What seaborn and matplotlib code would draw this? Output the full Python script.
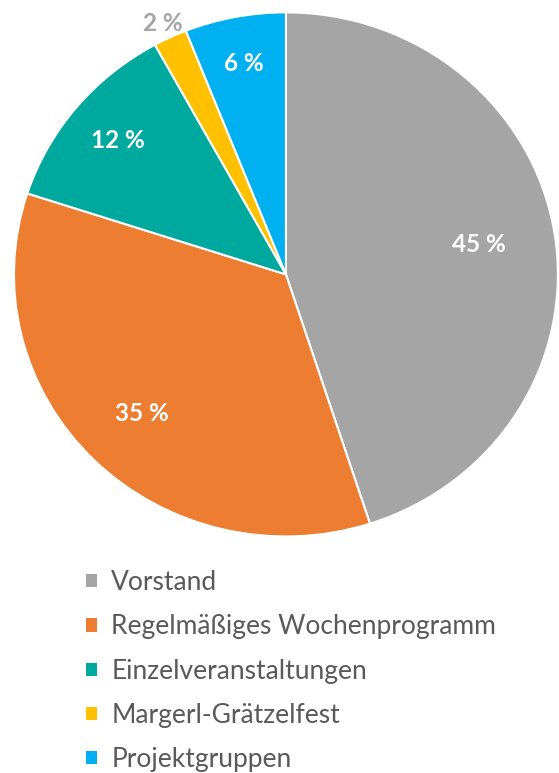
import numpy as np
import seaborn as sns
import matplotlib.pyplot as plt
from matplotlib.patches import Patch

# Data
categories = ['Vorstand', 'Regelmäßiges Wochenprogramm', 'Einzelveranstaltungen',
              'Margerl-Grätzelfest', 'Projektgruppen']
shares = [45, 35, 12, 2, 6]
colors = ['#A5A5A5', '#ED7D31', '#00A99D', '#FFC000', '#00B0F0']
label_colors = ['white', 'white', 'white', '#A5A5A5', 'white']
label_radius = [0.72, 0.75, 0.80, 1.06, 0.82]

sns.set_theme(style='white')
plt.rcParams['font.family'] = ['Lato', 'DejaVu Sans']
palette = sns.color_palette(colors)

fig = plt.figure(figsize=(5.59, 7.73), dpi=100)
ax = fig.add_axes([0.025, 0.306, 0.973, 0.678])

wedges, _ = ax.pie(shares, colors=palette, startangle=90, counterclock=False,
                   wedgeprops=dict(edgecolor='white', linewidth=1.5))
ax.set_aspect('auto')
ax.set_xlim(-1, 1)
ax.set_ylim(-1, 1)
ax.axis('off')

# Percentage labels
for w, val, col, r in zip(wedges, shares, label_colors, label_radius):
    ang = np.deg2rad((w.theta1 + w.theta2) / 2)
    ax.text(r * np.cos(ang), r * np.sin(ang), f'{val} %', ha='center', va='center',
            color=col, fontsize=17.5, fontweight='bold')

# Legend
handles = [Patch(facecolor=c, edgecolor='none') for c in colors]
leg = fig.legend(handles, categories, loc='upper left', bbox_to_anchor=(0.154, 0.2625),
                 frameon=False, fontsize=19, handlelength=0.4, handleheight=0.4,
                 handletextpad=0.55, labelspacing=0.73, borderaxespad=0, borderpad=0)
for t in leg.get_texts():
    t.set_color('#595959')

plt.savefig('out.png', dpi=100)
